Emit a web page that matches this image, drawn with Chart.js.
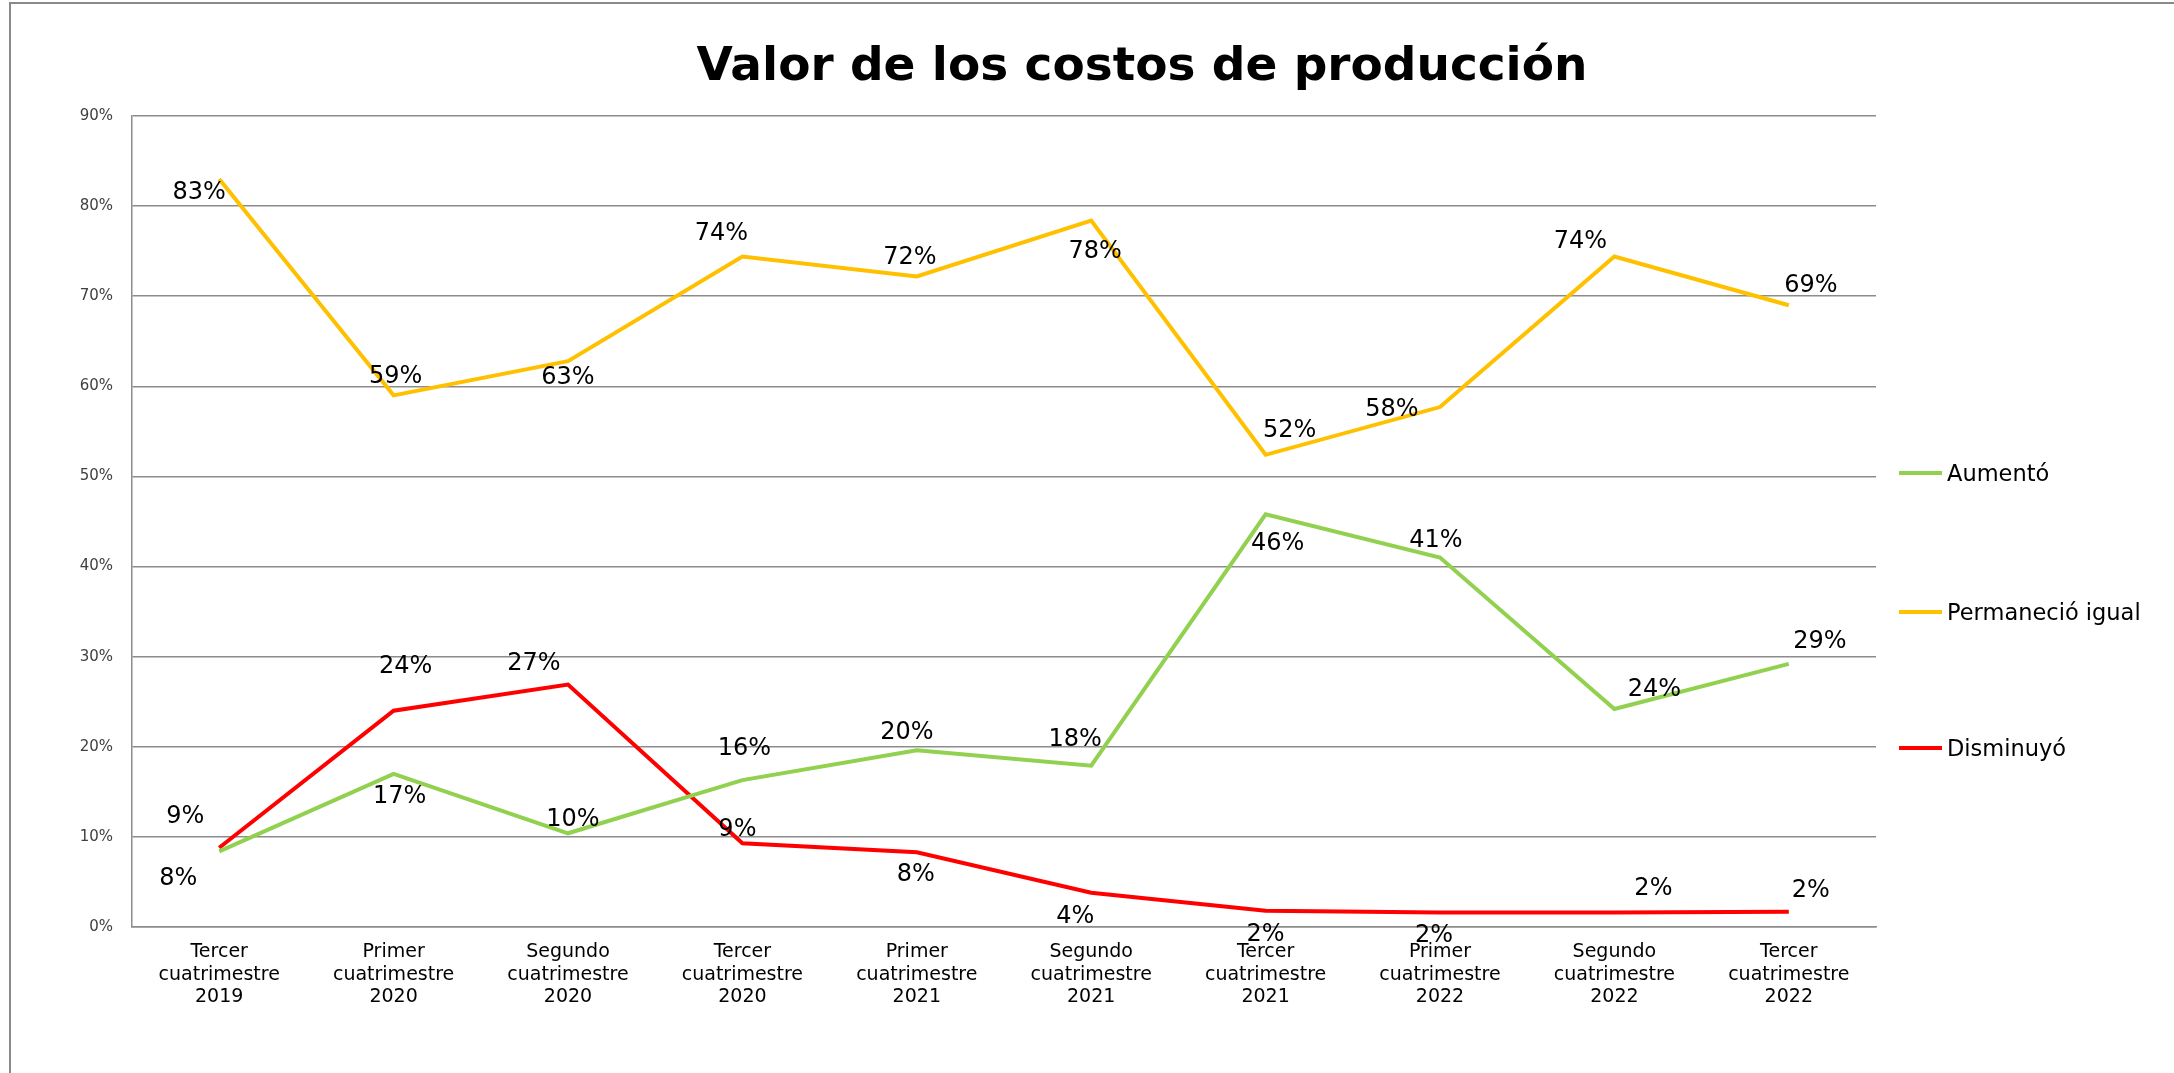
<!DOCTYPE html>
<html>
<head>
<meta charset="utf-8">
<script src="https://cdn.jsdelivr.net/npm/chart.js@4"></script>
<style>
  body { margin: 0; background: #fff; overflow: hidden; width: 2174px; height: 1073px; font-family: 'DejaVu Sans', sans-serif; }
  #frame { position: absolute; left: 9px; top: 2px; width: 2264px; height: 1100px; border: 2px solid #8a8a8a; }
  #chart { display: block; }
  #title { position: absolute; left: 0; top: 40px; width: 2284px; text-align: center; font-weight: bold; font-size: 47px; line-height: 47px; color: #000; }
  .leg { position: absolute; left: 1899px; height: 22px; display: flex; align-items: center; font-size: 22.5px; color: #000; }
  .leg span.sw { display: inline-block; width: 43px; height: 3.5px; margin-right: 5px; }
</style>
</head>
<body>
<div id="frame"><canvas id="chart" width="1900" height="1069"></canvas></div>
<div id="title">Valor de los costos de producción</div>
<div id="legend"></div>
<script>
// Categories (x axis, multi-line labels)
const categories = [
  ["Tercer", "cuatrimestre", "2019"],
  ["Primer", "cuatrimestre", "2020"],
  ["Segundo", "cuatrimestre", "2020"],
  ["Tercer", "cuatrimestre", "2020"],
  ["Primer", "cuatrimestre", "2021"],
  ["Segundo", "cuatrimestre", "2021"],
  ["Tercer", "cuatrimestre", "2021"],
  ["Primer", "cuatrimestre", "2022"],
  ["Segundo", "cuatrimestre", "2022"],
  ["Tercer", "cuatrimestre", "2022"],
];

// Series values (share of answers)
const aumento = [0.084, 0.17, 0.104, 0.163, 0.196, 0.179, 0.458, 0.41, 0.242, 0.292];
const permanecio = [0.83, 0.59, 0.628, 0.744, 0.722, 0.784, 0.524, 0.577, 0.744, 0.69];
const disminuyo = [0.088, 0.24, 0.269, 0.093, 0.083, 0.038, 0.018, 0.016, 0.016, 0.017];

// y axis ticks
const yTicks = [0, 0.1, 0.2, 0.3, 0.4, 0.5, 0.6, 0.7, 0.8, 0.9];

// where each value label sits relative to its point (px)
const offAumento = [[-41,26],[6,22],[5,-15],[2,-32],[-10,-19],[-16,-27],[12,28],[-4,-18],[40,-20],[31,-23]];
const offPermanecio = [[-20,13],[2,-20],[0,16],[-21,-24],[-7,-20],[4,30],[24,-25],[-48,2],[-34,-16],[22,-20]];
const offDisminuyo = [[-34,-32],[12,-45],[-34,-22],[-5,-14],[-1,22],[-16,23],[0,23],[-6,22],[39,-25],[22,-22]];

const FONT = "'DejaVu Sans', sans-serif";
const pct = (v) => Math.round(v * 100) + "%";

const datasets = [
  { label: "Aumentó", data: aumento, borderColor: "#92D050", offsets: offAumento },
  { label: "Permaneció igual", data: permanecio, borderColor: "#FFC000", offsets: offPermanecio },
  { label: "Disminuyó", data: disminuyo, borderColor: "#FF0000", offsets: offDisminuyo },
].map((d) => ({ ...d, backgroundColor: d.borderColor, borderWidth: 4, pointRadius: 0, tension: 0, fill: false }));

// value labels next to each point
const valueLabels = {
  id: "valueLabels",
  afterDatasetsDraw(chart) {
    const ctx = chart.ctx;
    ctx.save();
    ctx.font = "24px " + FONT;
    ctx.fillStyle = "#000";
    ctx.textAlign = "center";
    ctx.textBaseline = "middle";
    chart.data.datasets.forEach((ds, di) => {
      chart.getDatasetMeta(di).data.forEach((pt, i) => {
        const [dx, dy] = ds.offsets[i];
        ctx.fillText(pct(ds.data[i]), pt.x + dx, pt.y + dy + 1);
      });
    });
    ctx.restore();
  },
};

new Chart(document.getElementById("chart"), {
  type: "line",
  data: { labels: categories, datasets },
  options: {
    responsive: false,
    animation: false,
    layout: { padding: { left: 0, right: 35, top: 112, bottom: 0 } },
    plugins: { legend: { display: false }, title: { display: false }, tooltip: { enabled: false } },
    scales: {
      x: {
        offset: true,
        grid: { display: false, drawTicks: false },
        border: { display: true, color: "#8c8c8c", width: 1.5 },
        ticks: { padding: 14, color: "#000", font: { family: FONT, size: 19, lineHeight: 1.18 }, maxRotation: 0, autoSkip: false },
        afterFit(s) { s.height = 146; },
      },
      y: {
        min: 0,
        max: 0.9,
        afterBuildTicks(s) { s.ticks = yTicks.map((v) => ({ value: v })); },
        grid: { color: "#8c8c8c", lineWidth: 1.5, drawTicks: false },
        border: { display: true, color: "#8c8c8c", width: 1.5 },
        ticks: { padding: 19, color: "#404040", font: { family: FONT, size: 15 }, callback: (v) => pct(v) },
        afterFit(s) { s.width = 121; },
      },
    },
  },
  plugins: [valueLabels],
});

// legend on the right, built from the datasets
const legendY = [473, 612, 748];
const legendBox = document.getElementById("legend");
datasets.forEach((d, i) => {
  const item = document.createElement("div");
  item.className = "leg";
  item.style.top = legendY[i] - 11 + "px";
  item.innerHTML = '<span class="sw" style="background:' + d.borderColor + '"></span>' + d.label;
  legendBox.appendChild(item);
});
</script>
</body>
</html>
